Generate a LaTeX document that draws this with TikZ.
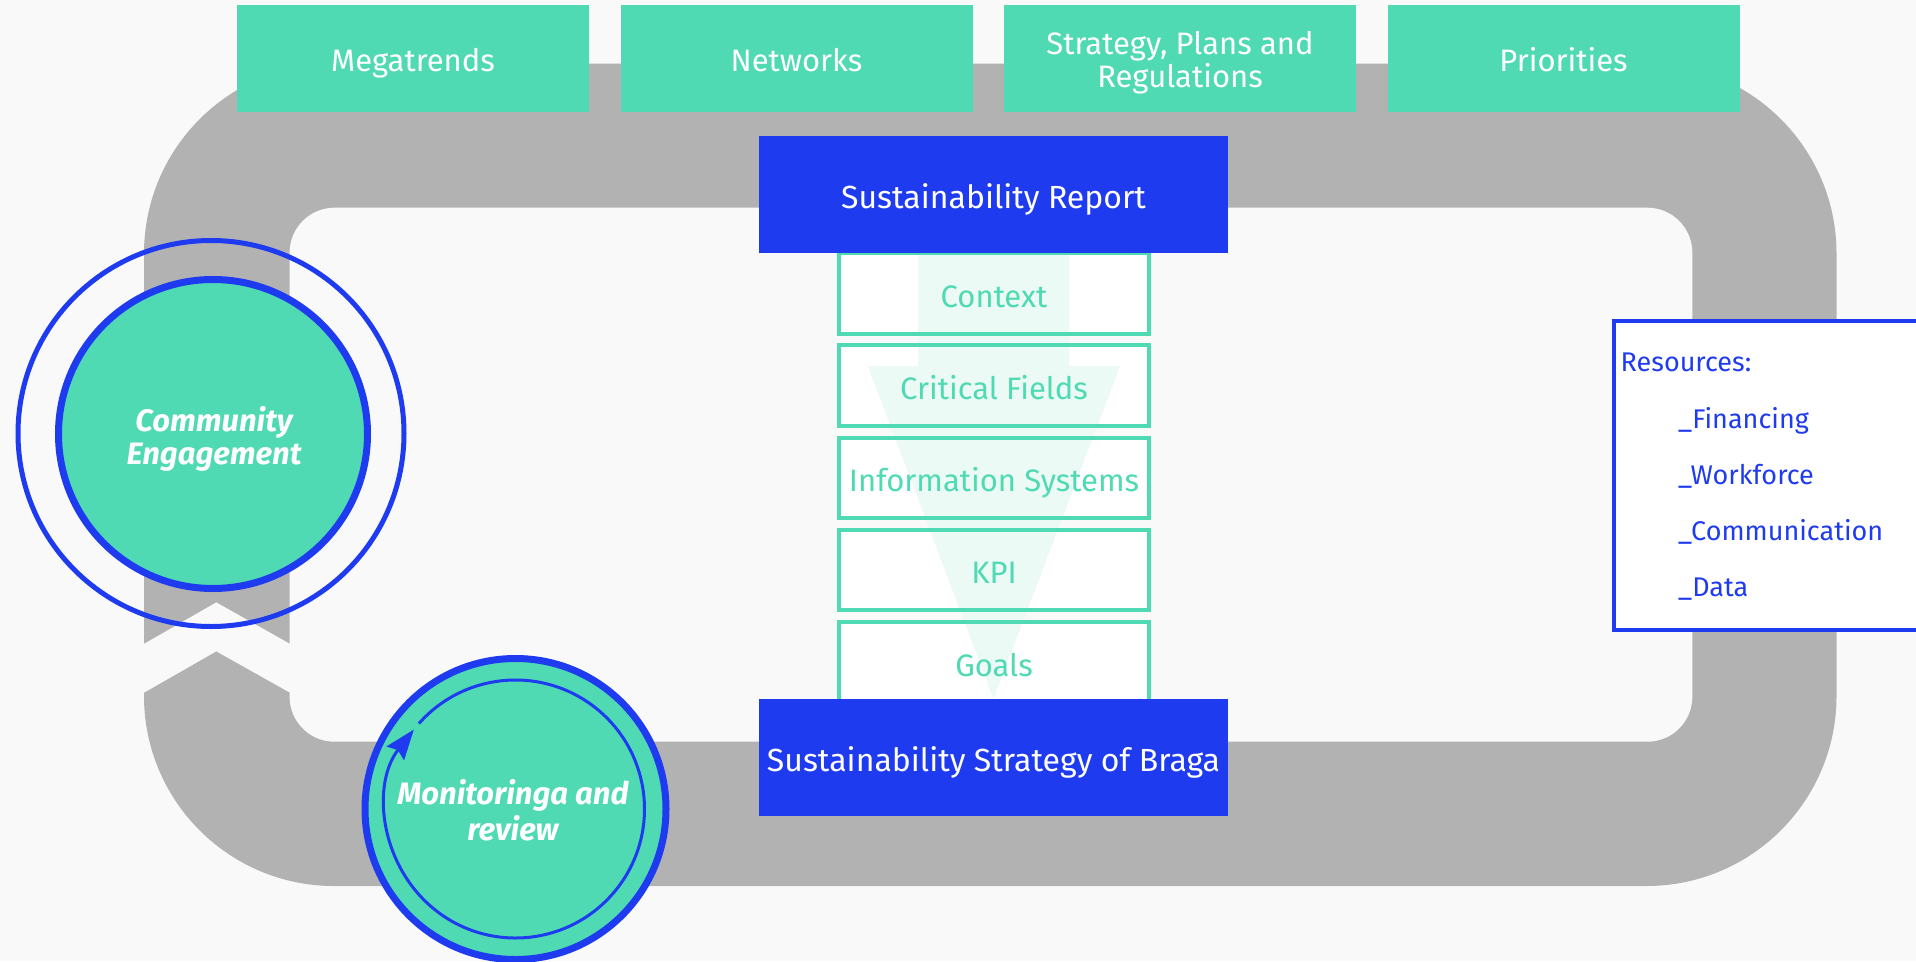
\documentclass[tikz,border=0pt]{standalone}
\usepackage{fontspec}
\setmainfont{Fira Sans}
\usetikzlibrary{arrows.meta,calc}
\definecolor{bgc}{HTML}{F9F9F9}
\definecolor{mint}{HTML}{4FDAB3}
\definecolor{royal}{HTML}{1F3BF0}
\definecolor{bandc}{HTML}{B2B2B2}
\definecolor{funnelc}{HTML}{EBFAF5}
\newcommand{\myfs}[2]{\fontsize{#1}{#2}\selectfont}
\newcommand{\dn}[2][4pt]{\raisebox{-#1}[\height][\depth]{#2}}
\begin{document}
\begin{tikzpicture}[x=1pt,y=-1pt,
  topbox/.style={fill=mint, text=white, minimum width=352pt, minimum height=106.5pt, inner sep=0pt, align=center, font=\myfs{31}{33}},
  oneline/.style={text height=29pt, text depth=2.2pt},
  bluebox/.style={fill=royal, text=white, minimum width=469pt, minimum height=117.4pt, inner sep=0pt, font=\myfs{32}{36}, text height=30pt, text depth=1.2pt},
  stackbox/.style={draw=mint, line width=4pt, text=mint, minimum width=310pt, minimum height=80.5pt, inner sep=0pt, font=\myfs{31}{34}, text height=29pt, text depth=1.5pt},
  circtext/.style={text=white, inner sep=0pt, align=center},
  restext/.style={text=royal, anchor=base west, inner sep=0pt, font=\myfs{27}{30}},
]
\useasboundingbox (0,0) rectangle (1916,961);
\clip (0,0) rectangle (1916,961);
\fill[bgc] (0,0) rectangle (1916,961);
% grey loop
\fill[bandc, rounded corners=190pt] (144,63.5) rectangle (1836.5,886);
\fill[bgc, rounded corners=45pt] (289.6,207.7) rectangle (1692.3,741.7);
% upward chevron gap in the loop
\fill[bgc] (142,645) -- (216.3,602.4) -- (292,645) -- (292,693.8) -- (216.3,651.3) -- (142,693.8) -- cycle;
% top boxes
\node[topbox, oneline] (mega) at (413,58.3) {Megatrends};
\node[topbox, oneline] (net) at (796.5,58.3) {Networks};
\node[topbox] (strat) at (1180,58.3) {\dn{Strategy, Plans and}\\\dn{Regulations}};
\node[topbox, oneline] (prio) at (1563.5,58.3) {Priorities};
% community engagement
\node[circle, draw=royal, line width=5pt, minimum size=386pt, inner sep=0pt] (ceouter) at (211,433.5) {};
\node[circle, draw=royal, fill=mint, line width=7pt, minimum size=309pt, inner sep=0pt] (ce) at (213,434) {};
\node[circtext, font=\bfseries\itshape\myfs{31}{33}] (ceT) at (214,439) {Community\\Engagement};
% stack fills and funnel
\foreach \i in {0,...,4} {
  \fill[white] (837,{251+92.3*\i}) rectangle (1151,{335.5+92.3*\i});
}
\fill[funnelc] (918,253) -- (1069,253) -- (1069,366) -- (1120,366) -- (993.5,699) -- (868,366) -- (918,366) -- cycle;
\node[stackbox] (context) at (994,293.25) {Context};
\node[stackbox] (critical) at (994,385.55) {Critical Fields};
\node[stackbox] (info) at (994,477.85) {Information Systems};
\node[stackbox] (kpi) at (994,570.15) {KPI};
\node[stackbox] (goals) at (994,662.45) {Goals};
\node[bluebox] (report) at (993.5,194.3) {Sustainability Report};
\node[bluebox] (braga) at (993.5,757.5) {Sustainability Strategy of Braga};
% resources
\node[draw=royal, fill=white, line width=4pt, minimum width=330pt, minimum height=309pt, inner sep=0pt, anchor=north west] (res) at (1612,319) {};
\node[restext] (resT) at (1620.5,371) {Resources:};
\node[restext] (fin) at (1678,428) {\_Financing};
\node[restext] (work) at (1678,484) {\_Workforce};
\node[restext] (comm) at (1678,540.5) {\_Communication};
\node[restext] (data) at (1678,596.5) {\_Data};
% monitoring
\node[circle, draw=royal, fill=mint, line width=7pt, minimum size=301pt, inner sep=0pt] (mon) at (515.5,809) {};
\draw[royal, line width=3pt, -{Stealth[length=30pt,width=22pt,inset=4pt]}] ([shift={(138.5:129pt)}]mon.center) arc[start angle=138.5, end angle=-218, radius=129pt];
\node[circtext, font=\bfseries\itshape\myfs{31}{36.5}] (monT) at (513,810) {Monitoringa and\\review};
\end{tikzpicture}
\end{document}
